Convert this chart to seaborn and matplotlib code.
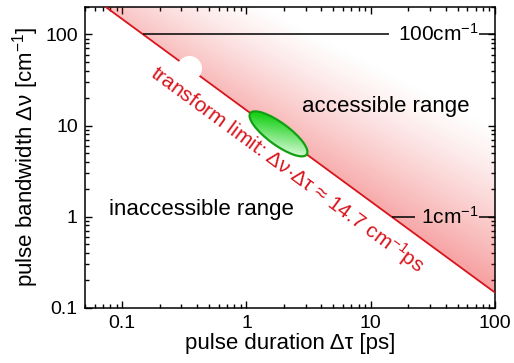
import numpy as np
import matplotlib
matplotlib.use("Agg")
import matplotlib.pyplot as plt
import seaborn as sns
from matplotlib.patches import Polygon, Ellipse
from matplotlib.transforms import IdentityTransform

# transform limit: delta nu * delta tau = 14.7 cm^-1 ps (end points)
tl_tau = [0.0735, 100]
tl_nu = [200, 0.147]

# horizontal reference lines at 100 cm^-1 and 1 cm^-1 (broken around the labels)
ref_nu = [100, 1]
ref_left_start = [0.147, 14.7]
ref_left_end = [14.1, 22.9]
ref_right_start = [75, 75]
ref_right_end = [100, 100]
ref_labels = ["100cm$^{-1}$", "1cm$^{-1}$"]
ref_label_tau = [16.6, 25.5]

# marks sitting on the limit line
dot_tau, dot_nu = 0.347, 42.4
ell_tau, ell_nu = 1.81, 8.1

x_ticks = [0.1, 1, 10, 100]
x_ticklabels = ["0.1", "1", "10", "100"]
y_ticks = [0.1, 1, 10, 100]
y_ticklabels = ["0.1", "1", "10", "100"]
xlim = (0.05, 100)
ylim = (0.1, 200)

red = "#d8141c"

sns.set_theme(style="ticks", rc={"text.color": "black", "axes.labelcolor": "black",
                                 "xtick.color": "black", "ytick.color": "black",
                                 "axes.edgecolor": "black"})
plt.rcParams["font.family"] = ["Liberation Sans", "DejaVu Sans"]
plt.rcParams["mathtext.default"] = "regular"

fig = plt.figure(figsize=(5.14, 3.63), dpi=100)
ax = fig.add_axes([0.165, 0.152, 0.798, 0.829])
ax.set_xscale("log")
ax.set_yscale("log")
ax.set_xlim(xlim)
ax.set_ylim(ylim)
ax.set_autoscale_on(False)

# pink shading above the limit, fading away from the line
bb = ax.get_window_extent()
nx, ny = 410, 301
fx = (np.arange(nx) + 0.5) / nx
fy = (np.arange(ny) + 0.5) / ny
FX, FY = np.meshgrid(fx, fy)
lx0, lx1 = np.log10(xlim)
ly0, ly1 = np.log10(ylim)
a = lx0 + FX * (lx1 - lx0)
b = ly0 + FY * (ly1 - ly0)
pxd = bb.width / (lx1 - lx0)
pyd = bb.height / (ly1 - ly0)
dist = (a + b - np.log10(tl_nu[1] * tl_tau[1])) / np.sqrt(1 / pxd**2 + 1 / pyd**2)
s = np.clip((a - b - (np.log10(tl_tau[0]) - np.log10(tl_nu[0])))
            / (np.log10(tl_tau[1]) - np.log10(tl_nu[1]) - np.log10(tl_tau[0]) + np.log10(tl_nu[0])), 0, 1)
reach = 80 + 80 * s
alpha = (0.26 + 0.16 * s) * np.clip(1 - dist / reach, 0, 1) ** 1.3
shade = np.zeros((ny, nx, 4))
shade[..., 0] = 0.92
shade[..., 1] = 0.1
shade[..., 2] = 0.1
shade[..., 3] = alpha
im = ax.imshow(shade, extent=[0, 1, 0, 1], transform=ax.transAxes, origin="lower",
               aspect="auto", interpolation="bilinear", zorder=1)
clip = Polygon([(tl_tau[0], tl_nu[0]), (tl_tau[1], tl_nu[1]), (xlim[1], ylim[1])],
               closed=True, transform=ax.transData, facecolor="none", edgecolor="none")
ax.add_patch(clip)
im.set_clip_path(clip)
ax.set_xlim(xlim)
ax.set_ylim(ylim)

# transform limit line
sns.lineplot(x=tl_tau, y=tl_nu, color=red, linewidth=1.3, ax=ax, zorder=3)

# reference lines
ax.hlines(ref_nu, ref_left_start, ref_left_end, color="black", linewidth=1.1, zorder=3)
ax.hlines(ref_nu, ref_right_start, ref_right_end, color="black", linewidth=1.1, zorder=3)
for t, n, lab in zip(ref_label_tau, ref_nu, ref_labels):
    ax.text(t, n, lab, fontsize=15, ha="left", va="center", zorder=4)

# white dot on the line
ax.plot([dot_tau], [dot_nu], "o", color="white", markersize=17, zorder=5)

# green ellipse with gradient
cx, cy = ax.transData.transform((ell_tau, ell_nu))
ang = -np.degrees(np.arctan(pyd / pxd))
ew, eh = 70, 22
ell = Ellipse((cx, cy), ew, eh, angle=ang, transform=IdentityTransform(),
              facecolor="none", edgecolor="#12a012", linewidth=1.6, zorder=6)
ax.add_patch(ell)
gx = bb.x0 + FX * bb.width
gy = bb.y0 + FY * bb.height
ca, sa = np.cos(np.radians(ang)), np.sin(np.radians(ang))
u = ((gx - cx) * ca + (gy - cy) * sa) / (ew / 2)
v = (-(gx - cx) * sa + (gy - cy) * ca) / (eh / 2)
t = np.clip((u - 0.6 * v + 1) / 2.2, 0, 1)
green = np.zeros((ny, nx, 4))
green[..., 0] = 0.1 + 0.75 * t
green[..., 1] = 0.82 + 0.16 * t
green[..., 2] = 0.1 + 0.75 * t
green[..., 3] = 1
gim = ax.imshow(green, extent=[0, 1, 0, 1], transform=ax.transAxes, origin="lower",
                aspect="auto", interpolation="bilinear", zorder=5.5)
gclip = Ellipse((cx, cy), ew, eh, angle=ang, transform=IdentityTransform(),
                facecolor="none", edgecolor="none")
ax.add_patch(gclip)
gim.set_clip_path(gclip)
ax.set_xlim(xlim)
ax.set_ylim(ylim)

# annotations
ax.text(13.1, 16.2, "accessible range", fontsize=16, ha="center", va="center", zorder=4)
ax.text(0.434, 1.19, "inaccessible range", fontsize=16, ha="center", va="center", zorder=4)
ax.text(2.14, 3.28, "transform limit: Δν·Δτ ≈ 14.7 cm$^{-1}$ps", fontsize=15, color=red,
        rotation=ang, rotation_mode="anchor", ha="center", va="center", zorder=4)

ax.set_xticks(x_ticks, x_ticklabels)
ax.set_yticks(y_ticks, y_ticklabels)
ax.tick_params(which="both", direction="in", top=True, right=True, labelsize=14, width=1)
ax.tick_params(which="major", length=5, pad=5)
ax.tick_params(which="minor", length=3)
for sp in ax.spines.values():
    sp.set_linewidth(1.1)
    sp.set_color("black")
ax.set_xlabel("pulse duration Δτ [ps]", fontsize=16, labelpad=1)
ax.set_ylabel("pulse bandwidth Δν [cm$^{-1}$]", fontsize=16, labelpad=3)

fig.savefig("out.png", dpi=100)
